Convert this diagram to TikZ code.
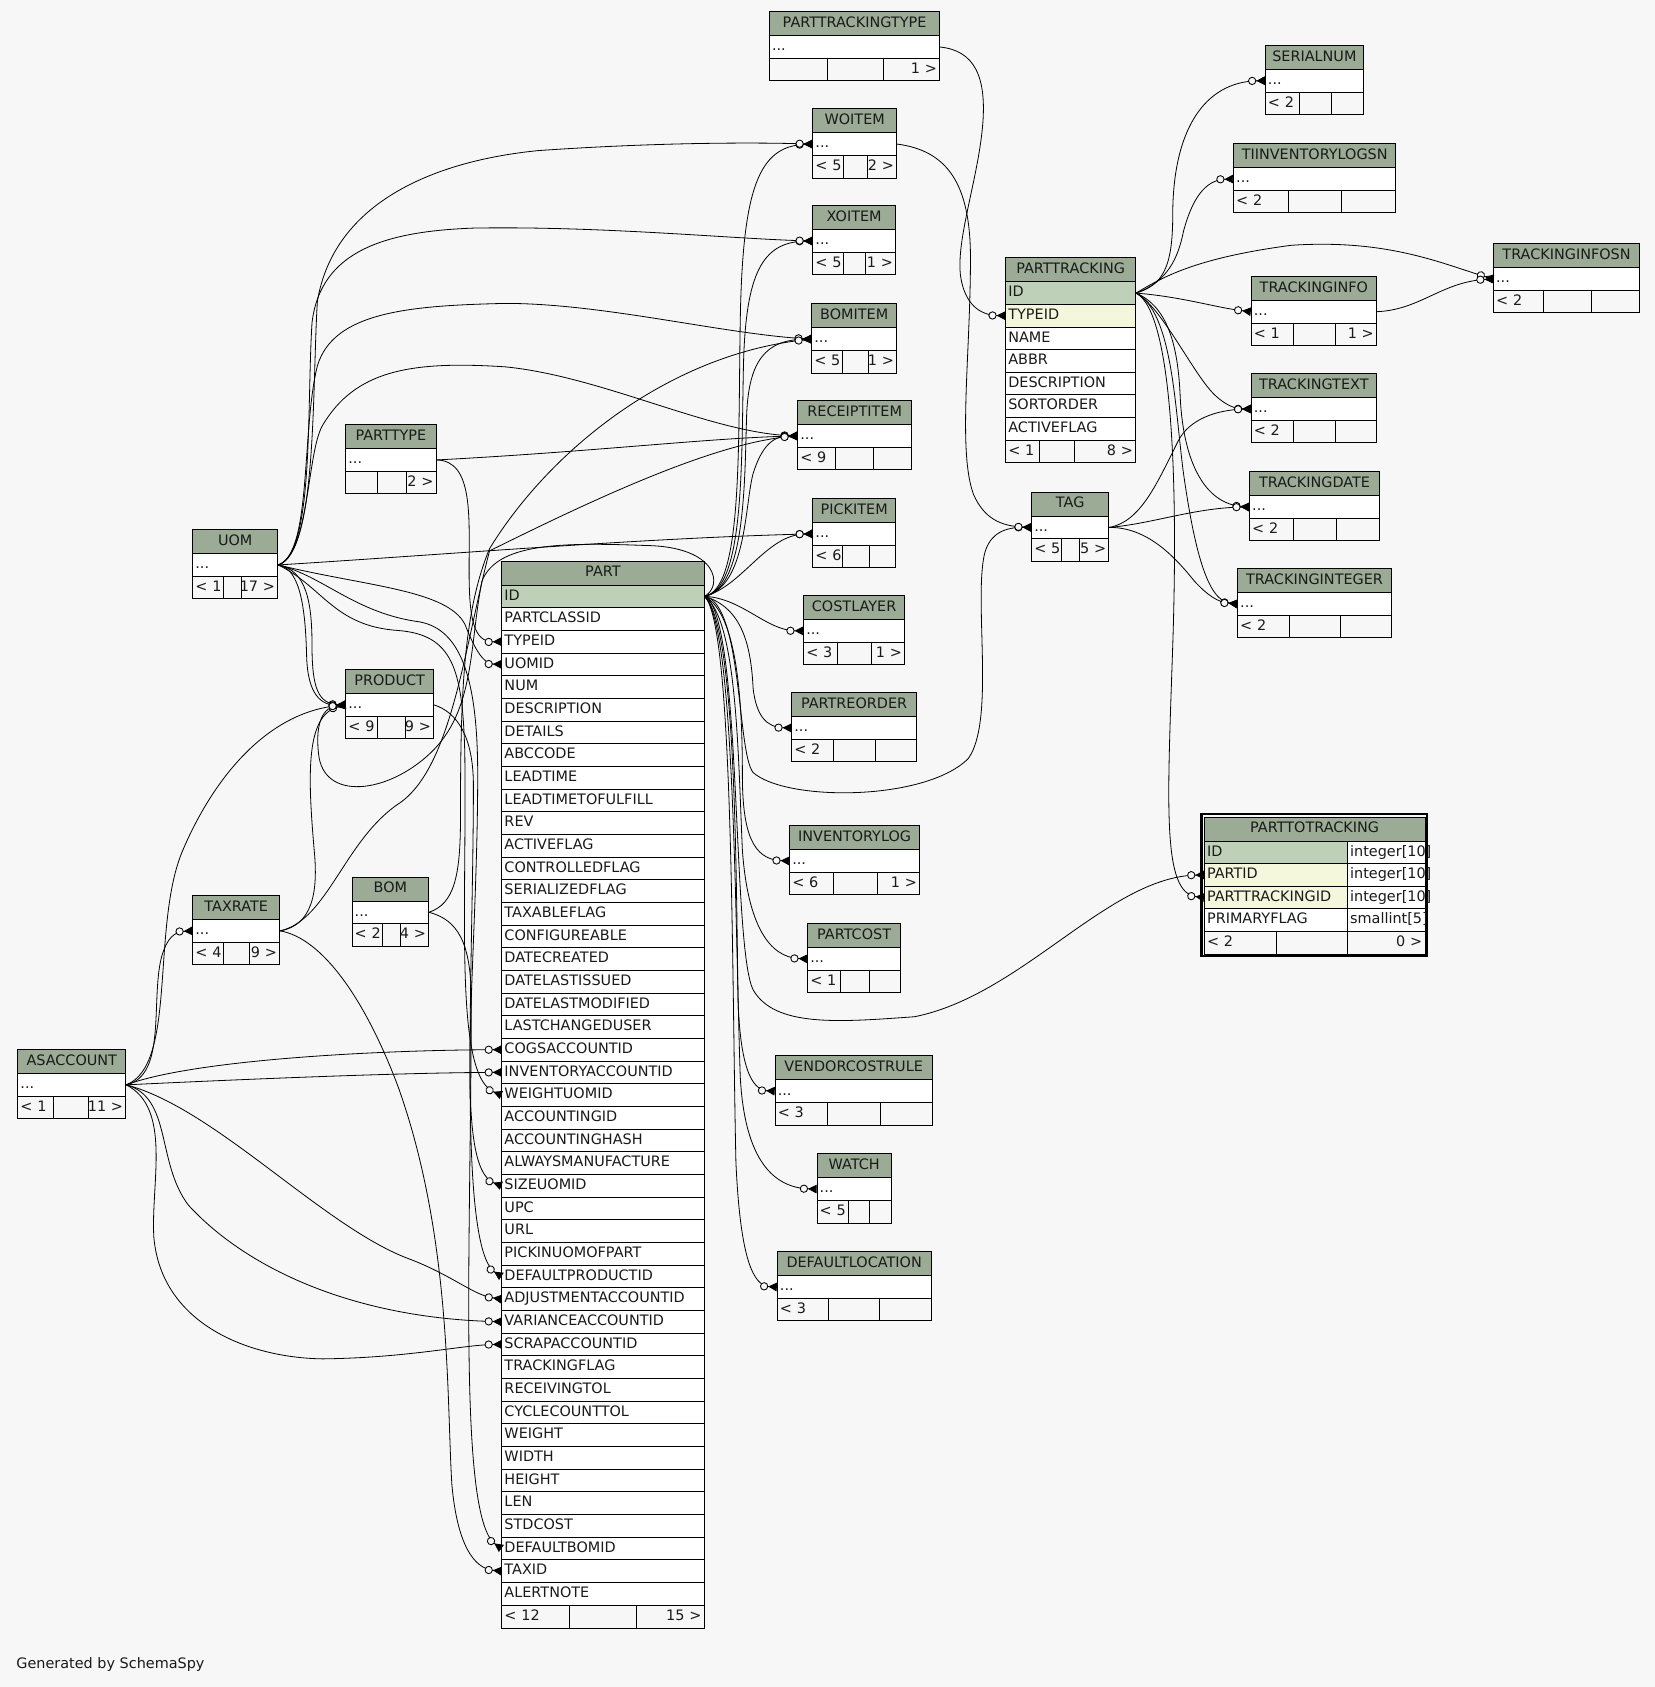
\documentclass[tikz,border=0pt]{standalone}
\usepackage{fontspec}
\setmainfont{DejaVu Sans}
\usetikzlibrary{arrows.meta}
\definecolor{bgc}{HTML}{F7F7F7}
\definecolor{hdr}{HTML}{9BAB96}
\definecolor{pk}{HTML}{BED1B8}
\definecolor{fk}{HTML}{F4F7DC}
\definecolor{txtc}{HTML}{1A1A1A}
\newcommand\tbfont{\fontsize{13.4}{15}\selectfont}
\newcommand\lft[1]{\makebox[0pt][l]{#1}}
\newcommand\rgt[1]{\hfill\makebox[0pt][r]{#1}}
\tikzset{
  cellbase/.style={draw=black, line width=0.8pt, inner xsep=2.5pt, inner ysep=0pt,
    text height=10pt, text depth=2.8pt, font=\tbfont, text=txtc, anchor=north west},
  tblhead/.style={cellbase, fill=hdr, minimum height=22.3pt, align=center},
  tblrow/.style={cellbase, fill=white, minimum height=21pt, align=left},
  tblfoot/.style={cellbase, fill=bgc, minimum height=21pt, align=left},
  rel/.style={draw=black, line width=0.75pt,
    -{Circle[sep=0pt,fill=bgc,length=7.6pt,width=7.6pt,line width=0.8pt]Triangle[sep=0pt,reversed,length=8pt,width=8pt,fill=black]}},
}
% name, title, xl, xr, ytop, d1, d2, left footer, right footer
\newcommand\stbl[9]{%
  \pgfmathsetmacro\twa{#4-#3-5}%
  \pgfmathsetmacro\twb{#6-#3-5}%
  \pgfmathsetmacro\twc{#7-#6-5}%
  \pgfmathsetmacro\twd{#4-#7-5}%
  \node[tblhead,text width=\twa pt] (#1-h) at (#3,#5) {#2};%
  \node[tblrow,text width=\twa pt] (#1-r1) at (#3,#5+22.3) {...};%
  \node[tblfoot,text width=\twb pt] (#1-fa) at (#3,#5+43.3) {\lft{#8}};%
  \node[tblfoot,text width=\twc pt] (#1-fb) at (#6,#5+43.3) {};%
  \node[tblfoot,text width=\twd pt] (#1-fc) at (#7,#5+43.3) {\rgt{#9}};%
}
\begin{document}
\begin{tikzpicture}[x=1pt,y=-1pt]
\fill[bgc] (0,0) rectangle (1538,1568);
\useasboundingbox (0,0) rectangle (1538,1568);

% ---------- small tables ----------
\stbl{pttype}{PARTTRACKINGTYPE}{714.7}{873}{10.5}{768.9}{820.9}{}{1 >}
\stbl{woitem}{WOITEM}{755}{833}{100.7}{783.7}{806}{< 5}{2 >}
\stbl{xoitem}{XOITEM}{755}{832}{190.8}{783.7}{804}{< 5}{1 >}
\stbl{bomitem}{BOMITEM}{754}{833}{282}{783}{807}{< 5}{1 >}
\stbl{receiptitem}{RECEIPTITEM}{741}{847}{372}{776}{811}{< 9}{}
\stbl{pickitem}{PICKITEM}{755}{832}{463}{783}{808}{< 6}{}
\stbl{costlayer}{COSTLAYER}{746.5}{840.4}{553.2}{778.1}{810}{< 3}{1 >}
\stbl{partreorder}{PARTREORDER}{735.4}{851.5}{643.4}{774.4}{813.4}{< 2}{}
\stbl{inventorylog}{INVENTORYLOG}{733.5}{854.3}{767}{774.4}{814.7}{< 6}{1 >}
\stbl{partcost}{PARTCOST}{750.2}{836.7}{858}{780.3}{807.9}{< 1}{}
\stbl{vendorcostrule}{VENDORCOSTRULE}{720}{866}{981}{769}{818}{< 3}{}
\stbl{watch}{WATCH}{759}{828}{1072}{788}{808}{< 5}{}
\stbl{defaultlocation}{DEFAULTLOCATION}{722}{865}{1163}{770}{817}{< 3}{}
\stbl{tag}{TAG}{958.4}{1030.2}{457}{986.4}{1003.1}{< 5}{5 >}
\stbl{serialnum}{SERIALNUM}{1175.6}{1266.9}{41.8}{1207.5}{1237.2}{< 2}{}
\stbl{tiinvlogsn}{TIINVENTORYLOGSN}{1146.1}{1297}{133.2}{1197.2}{1246.8}{< 2}{}
\stbl{trackinginfosn}{TRACKINGINFOSN}{1387.7}{1523.6}{226.1}{1434.3}{1479}{< 2}{}
\stbl{trackinginfo}{TRACKINGINFO}{1162.5}{1279}{256.5}{1202.2}{1241}{< 1}{1 >}
\stbl{trackingtext}{TRACKINGTEXT}{1162.5}{1279}{346.9}{1202.2}{1241}{< 2}{}
\stbl{trackingdate}{TRACKINGDATE}{1161}{1281.8}{438}{1202}{1241.8}{< 2}{}
\stbl{trackinginteger}{TRACKINGINTEGER}{1149.8}{1293}{528.1}{1198.3}{1245.6}{< 2}{}
\stbl{parttype}{PARTTYPE}{320.9}{404.9}{394.3}{350}{377}{}{2 >}
\stbl{uom}{UOM}{178.7}{257.7}{491.9}{207.5}{223.6}{< 1}{17 >}
\stbl{product}{PRODUCT}{320.9}{402.7}{622}{350}{376}{< 9}{9 >}
\stbl{taxrate}{TAXRATE}{178.7}{259.6}{832}{207.5}{231.7}{< 4}{9 >}
\stbl{bom}{BOM}{326.8}{398}{814.7}{354.7}{371.7}{< 2}{4 >}
\stbl{asaccount}{ASACCOUNT}{16.1}{116.5}{975.1}{49.6}{82.1}{< 1}{11 >}

% ---------- PART ----------
\node[tblhead,text width=183pt] (part-h) at (466,521) {PART};
\foreach \t [count=\i] in {ID,PARTCLASSID,TYPEID,UOMID,NUM,DESCRIPTION,DETAILS,ABCCODE,LEADTIME,LEADTIMETOFULFILL,REV,ACTIVEFLAG,CONTROLLEDFLAG,SERIALIZEDFLAG,TAXABLEFLAG,CONFIGUREABLE,DATECREATED,DATELASTISSUED,DATELASTMODIFIED,LASTCHANGEDUSER,COGSACCOUNTID,INVENTORYACCOUNTID,WEIGHTUOMID,ACCOUNTINGID,ACCOUNTINGHASH,ALWAYSMANUFACTURE,SIZEUOMID,UPC,URL,PICKINUOMOFPART,DEFAULTPRODUCTID,ADJUSTMENTACCOUNTID,VARIANCEACCOUNTID,SCRAPACCOUNTID,TRACKINGFLAG,RECEIVINGTOL,CYCLECOUNTTOL,WEIGHT,WIDTH,HEIGHT,LEN,STDCOST,DEFAULTBOMID,TAXID,ALERTNOTE}{
  \ifnum\i=1 \def\rc{pk}\else\def\rc{white}\fi
  \node[tblrow,fill=\rc,minimum height=21.07pt,text width=183pt] (part-r\i) at (466,543.3+\i*21.07-21.07) {\t};
}
\node[tblfoot,minimum height=21.5pt,text width=58pt] (part-fa) at (466,1491.5) {\lft{< 12}};
\node[tblfoot,minimum height=21.5pt,text width=57pt] (part-fb) at (529,1491.5) {};
\node[tblfoot,minimum height=21.5pt,text width=58pt] (part-fc) at (591,1491.5) {\rgt{15 >}};

% ---------- PARTTRACKING ----------
\node[tblhead,text width=115.8pt] (ptrk-h) at (934.3,239.2) {PARTTRACKING};
\foreach \t [count=\i] in {ID,TYPEID,NAME,ABBR,DESCRIPTION,SORTORDER,ACTIVEFLAG}{
  \ifnum\i=1 \def\rc{pk}\else\ifnum\i=2 \def\rc{fk}\else\def\rc{white}\fi\fi
  \node[tblrow,fill=\rc,text width=115.8pt] (ptrk-r\i) at (934.3,261.5+\i*21-21) {\t};
}
\node[tblfoot,text width=26.7pt] (ptrk-fa) at (934.3,408.5) {\lft{< 1}};
\node[tblfoot,text width=27pt] (ptrk-fb) at (966,408.5) {};
\node[tblfoot,text width=52.1pt] (ptrk-fc) at (998,408.5) {\rgt{8 >}};

% ---------- PARTTOTRACKING ----------
\node[tblhead,text width=200pt] (ptt-h) at (1119,759) {PARTTOTRACKING};
\node[tblrow,fill=pk,text width=128pt] (ptt-r1) at (1119,781.3) {ID};
\node[tblrow,fill=fk,text width=128pt] (ptt-r2) at (1119,802.3) {PARTID};
\node[tblrow,fill=fk,text width=128pt] (ptt-r3) at (1119,823.3) {PARTTRACKINGID};
\node[tblrow,text width=128pt] (ptt-r4) at (1119,844.3) {PRIMARYFLAG};
\node[tblrow,text width=67pt] (ptt-t1) at (1252,781.3) {\lft{integer[10]}};
\node[tblrow,text width=67pt] (ptt-t2) at (1252,802.3) {\lft{integer[10]}};
\node[tblrow,text width=67pt] (ptt-t3) at (1252,823.3) {\lft{integer[10]}};
\node[tblrow,text width=67pt] (ptt-t4) at (1252,844.3) {\lft{smallint[5]}};
\node[tblfoot,text width=62pt] (ptt-fa) at (1119,865.3) {\lft{< 2}};
\node[tblfoot,text width=61pt] (ptt-fb) at (1186,865.3) {};
\node[tblfoot,text width=67pt] (ptt-fc) at (1252,865.3) {\rgt{0 >}};
\draw[line width=2.2pt] (1116.6,756.6) rectangle (1326.4,888.6);

% ---------- connectors: PART.ID ----------
\draw[rel] (part-r1.east) .. controls (690,548) and (686,420) .. (688,300) .. controls (690,175) and (705,136) .. (woitem-r1.west);
\draw[rel] (part-r1.east) .. controls (692,548) and (689,430) .. (691,340) .. controls (693,255) and (708,225) .. (xoitem-r1.west);
\draw[rel] (part-r1.east) .. controls (694,548) and (692,440) .. (694,385) .. controls (696,335) and (712,316) .. (bomitem-r1.west);
\draw[rel] (part-r1.east) .. controls (694,545) and (692,470) .. (700,440) .. controls (708,415) and (718,405) .. (receiptitem-r1.west);
\draw[rel] (part-r1.east) .. controls (690,545) and (712,497) .. (pickitem-r1.west);
\draw[rel] (part-r1.east) .. controls (690,556) and (712,586) .. (costlayer-r1.west);
\draw[rel] (part-r1.east) .. controls (690,565) and (698,600) .. (700,640) .. controls (703,665) and (712,676) .. (partreorder-r1.west);
\draw[rel] (part-r1.east) .. controls (685,570) and (690,650) .. (690,720) .. controls (690,775) and (700,799) .. (inventorylog-r1.west);
\draw[rel] (part-r1.east) .. controls (685,575) and (686,700) .. (690,790) .. controls (695,860) and (715,890) .. (partcost-r1.west);
\draw[rel] (part-r1.east) .. controls (684,580) and (684,800) .. (686,930) .. controls (688,990) and (698,1013) .. (vendorcostrule-r1.west);
\draw[rel] (part-r1.east) .. controls (683,580) and (683,850) .. (688,1000) .. controls (692,1080) and (720,1104) .. (watch-r1.west);
\draw[rel] (part-r1.east) .. controls (682,580) and (680,900) .. (684,1080) .. controls (688,1170) and (700,1195) .. (defaultlocation-r1.west);
\draw[rel] (part-r1.east) .. controls (690,560) and (685,700) .. (700,718) .. controls (730,745) and (860,745) .. (900,705) .. controls (925,670) and (905,560) .. (915,515) .. controls (920,495) and (935,490) .. (tag-r1.west);
\draw[rel] (part-r1.east) .. controls (690,570) and (680,880) .. (700,920) .. controls (720,955) and (780,950) .. (850,945) .. controls (950,925) and (1030,815) .. (ptt-r2.west);
\draw[rel] (part-r1.east) .. controls (672,545) and (668,508) .. (600,507) .. controls (520,504) and (462,505) .. (448,540) .. controls (436,600) and (442,660) .. (400,700) .. controls (360,738) and (300,745) .. (296,700) .. controls (293,672) and (300,657) .. (product-r1.west);

% ---------- PARTTRACKING.ID ----------
\draw[rel] (ptrk-r1.east) .. controls (1080,265) and (1090,250) .. (1090,200) .. controls (1090,120) and (1120,76) .. (serialnum-r1.west);
\draw[rel] (ptrk-r1.east) .. controls (1085,262) and (1095,240) .. (1100,215) .. controls (1108,185) and (1120,167) .. (tiinvlogsn-r1.west);
\draw[rel] (ptrk-r1.east) .. controls (1080,258) and (1110,240) .. (1200,228) .. controls (1290,222) and (1340,245) .. (trackinginfosn-r1.west);
\draw[rel] (ptrk-r1.east) .. controls (1100,276) and (1130,286) .. (trackinginfo-r1.west);
\draw[rel] (ptrk-r1.east) .. controls (1080,285) and (1110,350) .. (1130,368) .. controls (1140,377) and (1148,380) .. (trackingtext-r1.west);
\draw[rel] (ptrk-r1.east) .. controls (1085,285) and (1095,320) .. (1097,370) .. controls (1100,430) and (1120,468) .. (trackingdate-r1.west);
\draw[rel] (ptrk-r1.east) .. controls (1090,290) and (1092,380) .. (1100,440) .. controls (1110,510) and (1122,558) .. (trackinginteger-r1.west);
\draw[rel] (ptrk-r1.east) .. controls (1090,290) and (1095,450) .. (1090,600) .. controls (1085,750) and (1080,830) .. (ptt-r3.west);

% ---------- TAG, TRACKINGINFO, PARTTRACKINGTYPE, WOITEM ----------
\draw[rel] (tag-r1.east) .. controls (1060,485) and (1075,450) .. (1095,410) .. controls (1105,390) and (1130,381) .. (trackingtext-r1.west);
\draw[rel] (tag-r1.east) .. controls (1070,487) and (1110,472) .. (trackingdate-r1.west);
\draw[rel] (tag-r1.east) .. controls (1065,490) and (1090,515) .. (1110,540) .. controls (1122,553) and (1132,560) .. (trackinginteger-r1.west);
\draw[rel] (trackinginfo-r1.east) .. controls (1320,288) and (1340,262) .. (trackinginfosn-r1.west);
\draw[rel] (pttype-r1.east) .. controls (905,47) and (918,70) .. (913,120) .. controls (908,170) and (888,225) .. (893,258) .. controls (897,282) and (910,293) .. (ptrk-r2.west);
\draw[rel] (woitem-r1.east) .. controls (880,140) and (902,170) .. (902,240) .. controls (902,330) and (890,420) .. (905,460) .. controls (915,482) and (930,489) .. (tag-r1.west);

% ---------- UOM ----------
\draw[rel] (uom-r1.east) .. controls (295,515) and (290,360) .. (295,280) .. controls (310,190) and (400,150) .. (500,140) .. controls (600,133) and (690,132) .. (woitem-r1.west);
\draw[rel] (uom-r1.east) .. controls (292,515) and (285,380) .. (290,300) .. controls (298,232) and (360,215) .. (440,212) .. controls (560,210) and (680,222) .. (xoitem-r1.west);
\draw[rel] (uom-r1.east) .. controls (290,515) and (280,400) .. (295,340) .. controls (310,290) and (380,284) .. (470,282) .. controls (560,282) and (670,310) .. (bomitem-r1.west);
\draw[rel] (uom-r1.east) .. controls (288,515) and (285,420) .. (300,395) .. controls (330,345) and (380,335) .. (470,341) .. controls (560,350) and (660,402) .. (receiptitem-r1.west);
\draw[rel] (uom-r1.east) .. controls (420,515) and (600,500) .. (pickitem-r1.west);
\draw[rel] (uom-r1.east) .. controls (340,545) and (415,548) .. (432,580) .. controls (440,600) and (448,617) .. (part-r4.west);
\draw[rel] (uom-r1.east) .. controls (300,545) and (310,582) .. (370,586) .. controls (420,590) and (430,620) .. (432,700) .. controls (434,850) and (422,1000) .. (part-r23.west);
\draw[rel] (uom-r1.east) .. controls (300,535) and (330,570) .. (390,578) .. controls (428,585) and (444,630) .. (444,720) .. controls (444,900) and (420,1085) .. (part-r27.west);
\draw[rel] (uom-r1.east) .. controls (285,530) and (290,560) .. (290,600) .. controls (290,640) and (296,654) .. (product-r1.west);
\draw[rel] (uom-r1.east) .. controls (280,528) and (284,570) .. (285,610) .. controls (286,645) and (298,656) .. (product-r1.west);

% ---------- PARTTYPE, PRODUCT, BOM, TAXRATE ----------
\draw[rel] (parttype-r1.east) .. controls (550,420) and (660,407) .. (receiptitem-r1.west);
\draw[rel] (parttype-r1.east) .. controls (440,428) and (436,480) .. (436,530) .. controls (436,575) and (440,597) .. (part-r3.west);
\draw[rel] (product-r1.east) .. controls (425,662) and (440,685) .. (440,730) .. controls (440,900) and (425,1160) .. (part-r31.west);
\draw[rel] (bom-r1.east) .. controls (425,855) and (438,875) .. (438,930) .. controls (438,1150) and (425,1410) .. (part-r43.west);
\draw[rel] (bom-r1.east) .. controls (422,840) and (428,815) .. (428,760) .. controls (428,650) and (430,570) .. (455,510) .. controls (510,420) and (620,330) .. (bomitem-r1.west);
\draw[rel] (taxrate-r1.east) .. controls (300,872) and (340,930) .. (370,1010) .. controls (420,1150) and (415,1300) .. (420,1380) .. controls (425,1435) and (440,1458) .. (part-r44.west);
\draw[rel] (taxrate-r1.east) .. controls (305,855) and (320,780) .. (372,746) .. controls (420,712) and (432,600) .. (455,512) .. controls (540,470) and (660,412) .. (receiptitem-r1.west);
\draw[rel] (taxrate-r1.east) .. controls (290,860) and (296,830) .. (292,790) .. controls (286,720) and (284,665) .. (product-r1.west);

% ---------- ASACCOUNT ----------
\draw[rel] (asaccount-r1.east) .. controls (155,1000) and (140,930) .. (150,890) .. controls (155,872) and (162,866) .. (taxrate-r1.west);
\draw[rel] (asaccount-r1.east) .. controls (165,990) and (140,860) .. (170,790) .. controls (200,720) and (250,662) .. (product-r1.west);
\draw[rel] (asaccount-r1.east) .. controls (180,985) and (350,976) .. (part-r21.west);
\draw[rel] (asaccount-r1.east) .. controls (250,1002) and (380,997) .. (part-r22.west);
\draw[rel] (asaccount-r1.east) .. controls (200,1030) and (300,1140) .. (380,1170) .. controls (420,1185) and (440,1204) .. (part-r32.west);
\draw[rel] (asaccount-r1.east) .. controls (160,1020) and (145,1080) .. (175,1120) .. controls (230,1180) and (330,1225) .. (part-r33.west);
\draw[rel] (asaccount-r1.east) .. controls (160,1030) and (140,1100) .. (143,1150) .. controls (150,1230) and (230,1262) .. (300,1263) .. controls (380,1262) and (430,1250) .. (part-r34.west);

\node[anchor=base west,font=\tbfont,text=txtc,inner sep=0pt] (gen) at (15,1551) {Generated by SchemaSpy};
\end{tikzpicture}
\end{document}
